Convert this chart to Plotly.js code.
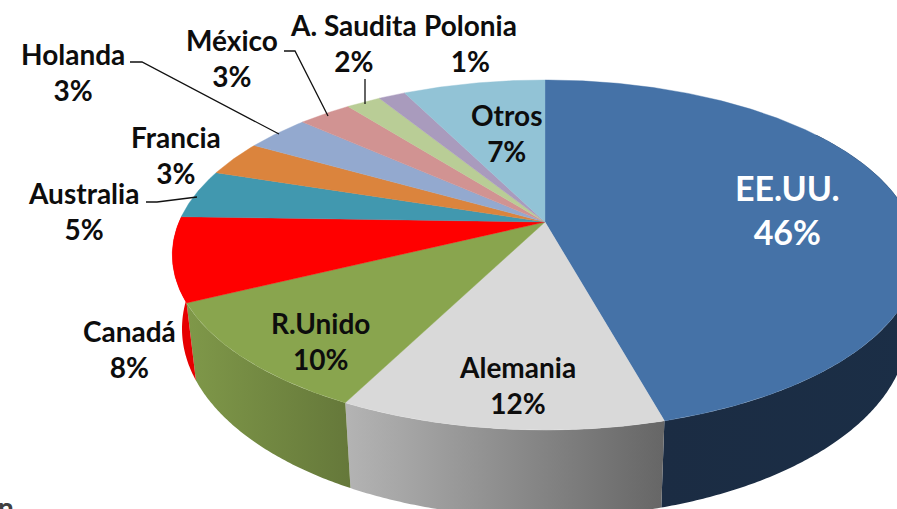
<!DOCTYPE html>
<html>
<head>
<meta charset="utf-8">
<script src="https://cdn.plot.ly/plotly-3.0.1.min.js"></script>
<style>html,body{margin:0;padding:0;background:#fff;overflow:hidden}#chart{width:897px;height:509px}</style>
</head>
<body>
<div id="chart"></div>
<script>
// Data
var countries = ["EE.UU.", "Alemania", "R.Unido", "Canadá", "Australia", "Francia", "Holanda", "México", "A. Saudita", "Polonia", "Otros"];
var shares = [45.7, 11.8, 10.25, 7.75, 4.5, 3.25, 3.35, 2.8, 1.8, 1.4, 7.4];

// Styles
var topColors = ["#4572a7", "#d9d9d9", "#89a54e", "#ff0000", "#4198af", "#db843d", "#93a9cf", "#d19392", "#b9cd96", "#a99bbd", "#92c3d6"];
var wallGradients = {
  "EE.UU.": ["#1b2c43", "#1b2e46"],
  "Alemania": ["#b4b4b4", "#666666"],
  "R.Unido": ["#7f9849", "#65783a"],
  "Canadá": ["#e60000", "#e60000"]
};

// Label layout
var labelX = [787, 517, 320, 129, 83, 176, 73, 232, 353, 470, 506];
var labelY = [209, 385, 341, 349, 211, 155, 72, 58, 43, 43, 133];

// Perspective of the tilted disc
var cx = 545, cy = 222, ax = 366, by = 168.8, persp = 0.1886, depth = 71, shrink = 0.974;

function rim(deg, lower) {
  var t = deg * Math.PI / 180, u = Math.sin(t), v = -Math.cos(t), w = 1 - persp * v;
  var x = cx + ax * u / w, y = cy + by * v / w;
  if (lower) { x = cx + (x - cx) * shrink; y += depth / w; }
  return [x, y];
}
function arc(a0, a1, lower) {
  var pts = [], n = Math.max(2, Math.ceil(Math.abs(a1 - a0) * 2));
  for (var i = 0; i <= n; i++) pts.push(rim(a0 + (a1 - a0) * i / n, lower));
  return pts;
}
function xs(p) { return p.map(function (q) { return q[0]; }); }
function ys(p) { return p.map(function (q) { return q[1]; }); }

var total = shares.reduce(function (s, v) { return s + v; }, 0);
var edges = [0];
shares.forEach(function (v, i) { edges.push(edges[i] + v / total * 360); });

var traces = [];
// Outer walls of the slices that face the viewer
countries.forEach(function (name, i) {
  var g = wallGradients[name];
  if (!g) return;
  var a0 = Math.max(edges[i], 55), a1 = edges[i + 1];
  var poly = arc(a0, a1, false).concat(arc(a1, a0, true));
  poly.push(poly[0]);
  // wall order runs right to left below the centre, the gradient runs left to right
  traces.push({
    type: "scatter", mode: "none", x: xs(poly), y: ys(poly), fill: "toself",
    fillgradient: { type: "horizontal", colorscale: [[0, g[0]], [1, g[1]]] },
    hoverinfo: "skip", showlegend: false, name: name + " (lateral)"
  });
});
// Top faces
countries.forEach(function (name, i) {
  var poly = [[cx, cy]].concat(arc(edges[i], edges[i + 1], false));
  poly.push([cx, cy]);
  traces.push({
    type: "scatter", mode: "lines", x: xs(poly), y: ys(poly), fill: "toself",
    fillcolor: topColors[i], line: { color: topColors[i], width: 0.4 },
    hoverinfo: "text", text: name + " " + Math.round(shares[i]) + "%", showlegend: false, name: name
  });
});

var annotations = countries.map(function (name, i) {
  var big = i === 0;
  return {
    x: labelX[i], y: labelY[i], xref: "x", yref: "y", showarrow: false,
    text: name + "<br>" + Math.round(shares[i]) + "%",
    align: "center", xanchor: "center", yanchor: "middle",
    font: { family: "Lato, sans-serif", size: big ? 34 : 28, color: big ? "#ffffff" : "#0d0d0d", weight: 700 }
  };
});
annotations.push({
  x: 6, y: 509, xref: "x", yref: "y", yanchor: "top", yshift: 21, showarrow: false,
  text: "n", font: { family: "Lato, sans-serif", size: 28, color: "#404040", weight: 700 }
});

var leaders = [
  "M130,62 L142,62 L279,134",
  "M284,51 L295,51 L328,116",
  "M365,79 L365,104",
  "M146,202 L157,202 L197,197"
].map(function (p) {
  return { type: "path", xref: "x", yref: "y", path: p, line: { color: "#111111", width: 1.3 } };
});

Plotly.newPlot("chart", traces, {
  width: 897, height: 509,
  margin: { l: 0, r: 0, t: 0, b: 0 },
  paper_bgcolor: "#ffffff", plot_bgcolor: "#ffffff",
  xaxis: { range: [0, 897], visible: false, fixedrange: true },
  yaxis: { range: [509, 0], visible: false, fixedrange: true },
  annotations: annotations, shapes: leaders, showlegend: false
}, { displayModeBar: false });
</script>
</body>
</html>
